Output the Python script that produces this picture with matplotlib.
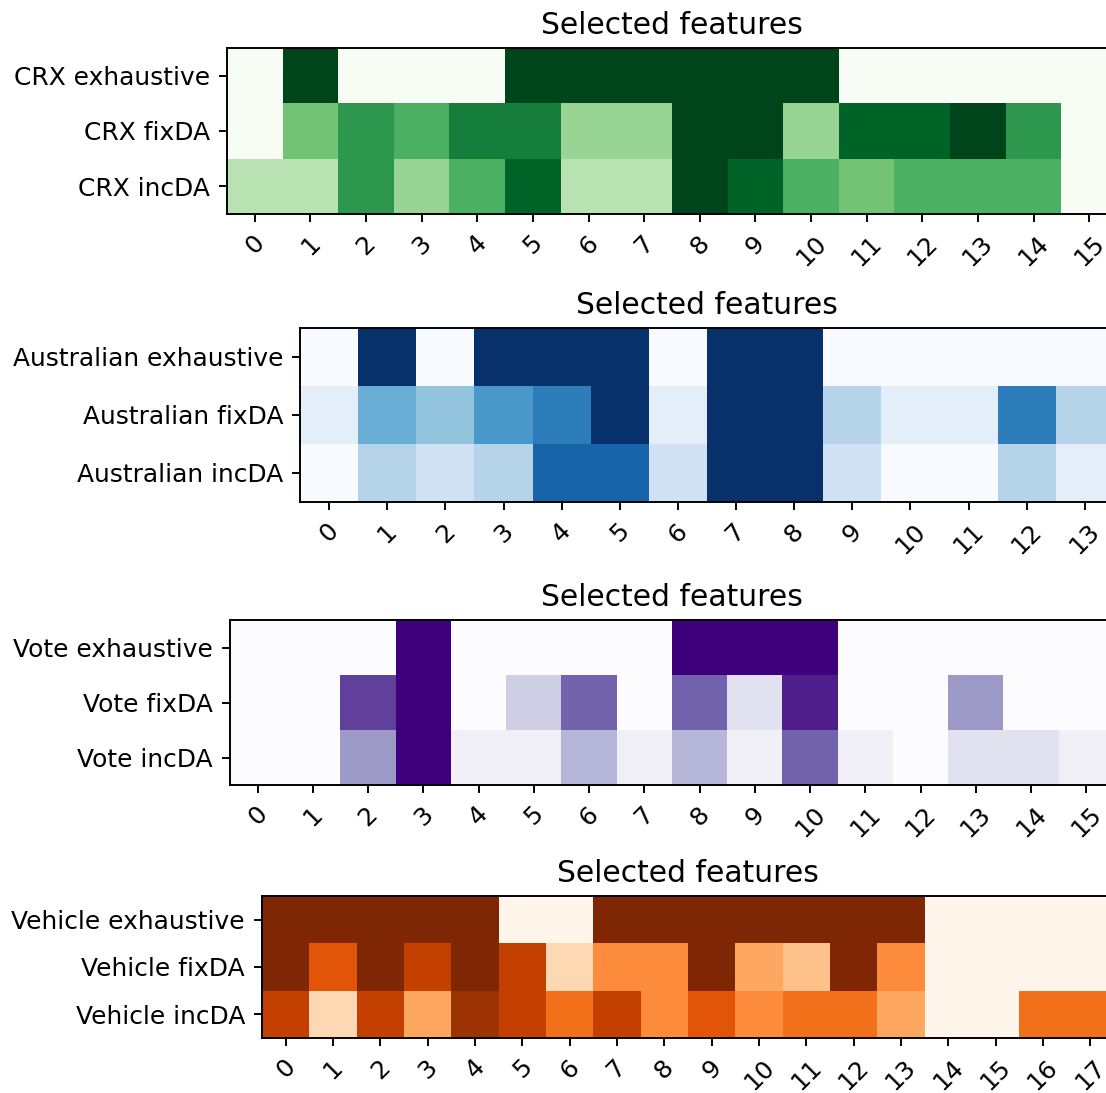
import numpy as np
import matplotlib
matplotlib.use('Agg')
import matplotlib.pyplot as plt

W, H, DPI = 1106, 1093, 174

# fraction of runs in which each feature was selected
crx_rows = ['CRX exhaustive', 'CRX fixDA', 'CRX incDA']
crx_exhaustive = [0, 1, 0, 0, 0, 1, 1, 1, 1, 1, 1, 0, 0, 0, 0, 0]
crx_fixda      = [0, .5, .7, .6, .8, .8, .4, .4, 1, 1, .4, .9, .9, 1, .7, 0]
crx_incda      = [.3, .3, .7, .4, .6, .9, .3, .3, 1, .9, .6, .5, .6, .6, .6, 0]

aus_rows = ['Australian exhaustive', 'Australian fixDA', 'Australian incDA']
aus_exhaustive = [0, 1, 0, 1, 1, 1, 0, 1, 1, 0, 0, 0, 0, 0]
aus_fixda      = [.1, .5, .4, .6, .7, 1, .1, 1, 1, .3, .1, .1, .7, .3]
aus_incda      = [0, .3, .2, .3, .8, .8, .2, 1, 1, .2, 0, 0, .3, .1]

vote_rows = ['Vote exhaustive', 'Vote fixDA', 'Vote incDA']
vote_exhaustive = [0, 0, 0, 1, 0, 0, 0, 0, 1, 1, 1, 0, 0, 0, 0, 0]
vote_fixda      = [0, 0, .8, 1, 0, .3, .7, 0, .7, .2, .9, 0, 0, .5, 0, 0]
vote_incda      = [0, 0, .5, 1, .1, .1, .4, .1, .4, .1, .7, .1, 0, .2, .2, .1]

veh_rows = ['Vehicle exhaustive', 'Vehicle fixDA', 'Vehicle incDA']
veh_exhaustive = [1, 1, 1, 1, 1, 0, 0, 1, 1, 1, 1, 1, 1, 1, 0, 0, 0, 0]
veh_fixda      = [1, .7, 1, .8, 1, .8, .2, .5, .5, 1, .4, .3, 1, .5, 0, 0, 0, 0]
veh_incda      = [.8, .2, .8, .4, .9, .8, .6, .8, .5, .7, .5, .6, .6, .4, 0, 0, .6, .6]

# (left, top, width, height) of each heatmap in pixels
panels = [
    (crx_rows, [crx_exhaustive, crx_fixda, crx_incda], 'Greens', (227, 48, 890, 166)),
    (aus_rows, [aus_exhaustive, aus_fixda, aus_incda], 'Blues', (300, 328, 814, 174)),
    (vote_rows, [vote_exhaustive, vote_fixda, vote_incda], 'Purples', (230, 620, 884, 165)),
    (veh_rows, [veh_exhaustive, veh_fixda, veh_incda], 'Oranges', (262, 896, 852, 142)),
]

plt.rcParams['xtick.labelsize'] = 10.3
plt.rcParams['ytick.labelsize'] = 10.3

fig = plt.figure(figsize=(W / DPI, H / DPI), dpi=DPI)

for rows, values, cmap, (x0, y0, w, h) in panels:
    ax = fig.add_axes([x0 / W, 1 - (y0 + h) / H, w / W, h / H])
    data = np.array(values, dtype=float)
    ax.imshow(data, cmap=cmap, vmin=0, vmax=1, aspect='auto')
    ax.set_yticks(range(len(rows)))
    ax.set_yticklabels(rows)
    ax.set_xticks(range(data.shape[1]))
    ax.set_xticklabels([str(i) for i in range(data.shape[1])], rotation=45)
    ax.set_title('Selected features', fontsize=12.3)

fig.savefig('out.png', dpi=DPI)
